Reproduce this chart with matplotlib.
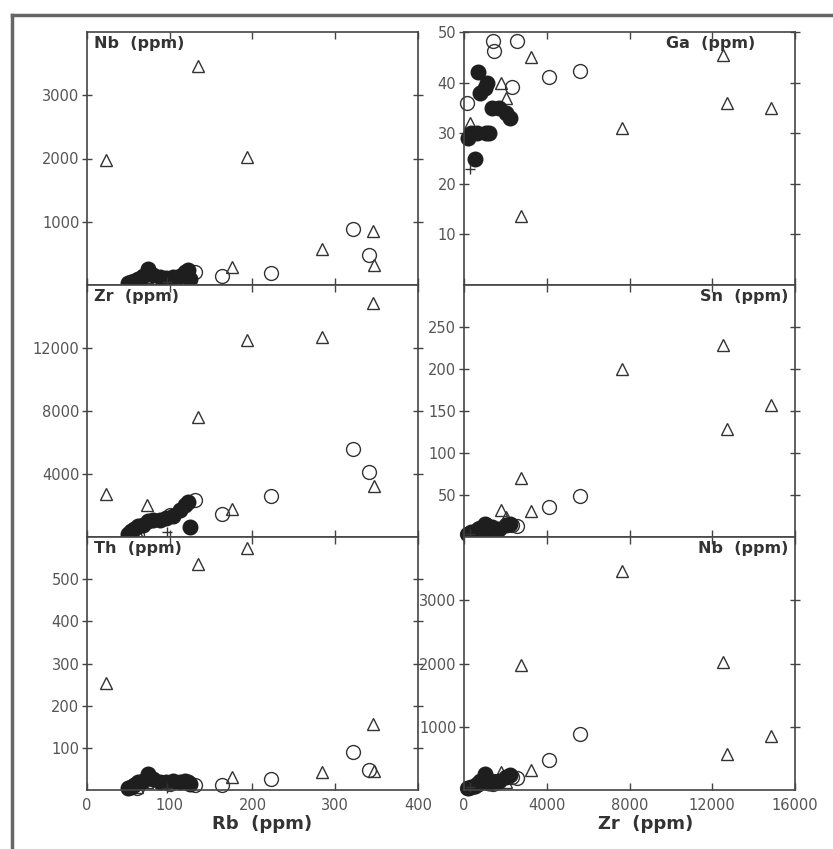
import matplotlib.pyplot as plt
from matplotlib.lines import Line2D

# filled circles
fill_rb = [50, 53, 57, 62, 68, 74, 80, 88, 96, 104, 112, 118, 122, 125]
fill_zr = [200, 350, 530, 680, 770, 1010, 1060, 1110, 1200, 1350, 1700, 2030, 2200, 630]
fill_ga = [29, 30, 25, 42, 38, 39, 30, 40, 30, 35, 35, 34, 33, 30]
fill_nb = [30, 50, 70, 100, 150, 260, 160, 120, 110, 130, 150, 200, 230, 90]
fill_sn = [4, 6, 3, 10, 11, 16, 14, 8, 10, 12, 10, 14, 15, 6]
fill_th = [4, 8, 12, 18, 22, 38, 26, 20, 18, 22, 20, 22, 18, 15]

# open circles
circ_rb = [322, 341, 222, 163, 130, 100, 60]
circ_zr = [5600, 4100, 2580, 1450, 2330, 1400, 150]
circ_ga = [42.3, 41.2, 48.2, 46.3, 39.2, 48.2, 36]
circ_nb = [890, 470, 190, 140, 210, 100, 30]
circ_sn = [49, 36, 13, 10, 14, 6, 3]
circ_th = [89, 48, 26, 12, 12, 15, 5]

# open triangles
tri_rb = [23, 134, 193, 284, 346, 347, 175, 73, 60]
tri_zr = [2750, 7650, 12500, 12700, 14850, 3250, 1800, 2050, 290]
tri_ga = [13.7, 31, 45.4, 36, 35, 45, 40, 37, 32]
tri_nb = [1980, 3470, 2030, 570, 850, 320, 280, 120, 50]
tri_sn = [70, 200, 228, 128, 157, 31, 32, 24, 5]
tri_th = [253, 537, 573, 43, 157, 46, 31, 20, 8]

# crosses
crs_rb = [97]
crs_zr = [290]
crs_ga = [23]
crs_nb = [40]
crs_sn = [3]
crs_th = [5]

W, H = 833, 849
fig = plt.figure(figsize=(W / 100, H / 100), dpi=100)
plt.rcParams['font.family'] = 'DejaVu Sans'

cols = [87, 464]
rows = [(32, 285), (285, 537), (537, 790)]
aw = 331

panels = [
    # col, row, x key, y key, ylim, yticks, label, label side
    (0, 0, 'rb', 'nb', 4000, [1000, 2000, 3000], 'Nb  (ppm)', 'l'),
    (0, 1, 'rb', 'zr', 16000, [4000, 8000, 12000], 'Zr  (ppm)', 'l'),
    (0, 2, 'rb', 'th', 600, [100, 200, 300, 400, 500], 'Th  (ppm)', 'l'),
    (1, 0, 'zr', 'ga', 50, [10, 20, 30, 40, 50], 'Ga  (ppm)', 'r'),
    (1, 1, 'zr', 'sn', 300, [50, 100, 150, 200, 250], 'Sn  (ppm)', 'r'),
    (1, 2, 'zr', 'nb', 4000, [1000, 2000, 3000], 'Nb  (ppm)', 'r'),
]

data = {
    'fill': dict(rb=fill_rb, zr=fill_zr, ga=fill_ga, nb=fill_nb, sn=fill_sn, th=fill_th),
    'circ': dict(rb=circ_rb, zr=circ_zr, ga=circ_ga, nb=circ_nb, sn=circ_sn, th=circ_th),
    'tri': dict(rb=tri_rb, zr=tri_zr, ga=tri_ga, nb=tri_nb, sn=tri_sn, th=tri_th),
    'crs': dict(rb=crs_rb, zr=crs_zr, ga=crs_ga, nb=crs_nb, sn=crs_sn, th=crs_th),
}

edge = '#333333'
tickc = '#555555'

for c, r, xk, yk, ymax, yt, lab, side in panels:
    x0 = cols[c]
    top, bot = rows[r]
    ax = fig.add_axes([x0 / W, (H - bot) / H, aw / W, (bot - top) / H])
    d = data['tri']
    ax.plot(d[xk], d[yk], '^', ms=9, mfc='none', mec=edge, mew=1.0, clip_on=False)
    d = data['circ']
    ax.plot(d[xk], d[yk], 'o', ms=10, mfc='none', mec=edge, mew=1.0, clip_on=False)
    d = data['fill']
    ax.plot(d[xk], d[yk], 'o', ms=10.5, mfc='#1e1e1e', mec='#1e1e1e', clip_on=False)
    d = data['crs']
    ax.plot(d[xk], d[yk], '+', ms=7, mec=edge, mew=1.0, clip_on=False)

    if xk == 'rb':
        ax.set_xlim(0, 400)
        ax.set_xticks([0, 100, 200, 300, 400])
    else:
        ax.set_xlim(0, 16000)
        ax.set_xticks([0, 4000, 8000, 12000, 16000])
    ax.set_ylim(0, ymax)
    ax.set_yticks(yt)

    ax.tick_params(axis='x', direction='in', top=True, length=5, width=1,
                   colors='#444444', labelcolor=tickc, labelsize=10.5, pad=6)
    ax.tick_params(axis='y', direction='inout', right=True, length=7, width=1,
                   colors='#444444', labelcolor=tickc, labelsize=10.5, pad=2)
    if r != 2:
        ax.tick_params(axis='x', labelbottom=False)
    for s in ax.spines.values():
        s.set_color('#444444')
        s.set_linewidth(1.2)

    if side == 'l':
        ax.text(0.02, 0.985, lab, transform=ax.transAxes, ha='left', va='top',
                fontsize=11.5, fontweight='bold', color='#333333')
    else:
        xr = 0.88 if yk == 'ga' else 0.98
        ax.text(xr, 0.985, lab, transform=ax.transAxes, ha='right', va='top',
                fontsize=11.5, fontweight='bold', color='#333333')

    if r == 2:
        ax.set_xlabel('Rb  (ppm)' if xk == 'rb' else 'Zr  (ppm)', fontsize=13,
                      fontweight='bold', color='#333333')
        ax.xaxis.set_label_coords(0.53 if xk == 'rb' else 0.55, -0.1)

# outer frame of the scanned figure
fig.add_artist(Line2D([12 / W, 12 / W], [0, 1 - 15 / H], transform=fig.transFigure,
                      lw=2.5, color='#666666'))
fig.add_artist(Line2D([12 / W, 1], [1 - 15 / H, 1 - 15 / H], transform=fig.transFigure,
                      lw=2.5, color='#666666'))

fig.savefig('out.png', dpi=100)
